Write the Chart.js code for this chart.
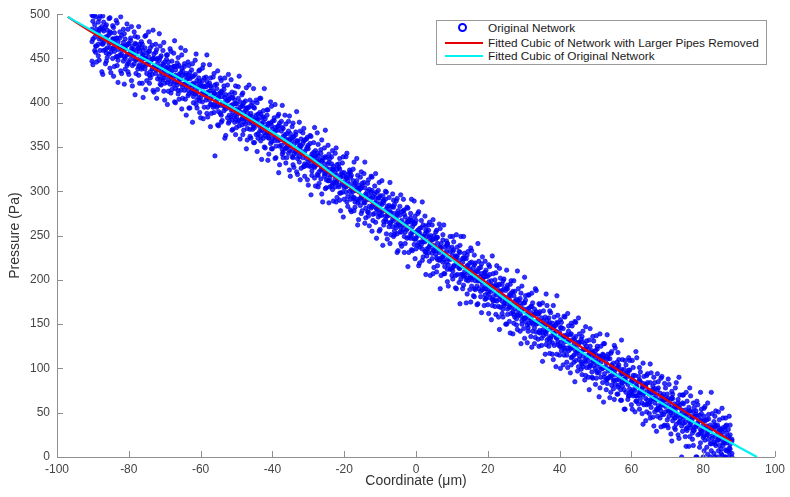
<!DOCTYPE html>
<html><head><meta charset="utf-8">
<script src="https://cdn.jsdelivr.net/npm/chart.js@4.4.1/dist/chart.umd.min.js"></script>
<style>
html,body{margin:0;padding:0;background:#fff;}
#wrap{position:relative;width:790px;height:497px;}
#legend{position:absolute;left:436px;top:20px;width:329px;height:43px;border:1px solid #9a9a9a;background:#fff;font-family:"Liberation Sans",Arial,Helvetica,sans-serif;font-size:11.8px;color:#1a1a1a;}
.row{position:absolute;left:0;height:14px;line-height:14px;width:100%;}
.txt{position:absolute;left:51px;top:0;white-space:nowrap;}
.ln{position:absolute;left:8px;width:38px;height:2px;top:6px;}
.mk{position:absolute;left:21px;top:2px;width:5px;height:5px;border:2px solid;border-radius:50%;}
</style></head>
<body><div id="wrap"><canvas id="c" width="790" height="497"></canvas><div id="legend"></div></div>
<script>
// ---- data ----
const seriesNames = ["Original Network", "Fitted Cubic of Network with Larger Pipes Removed", "Fitted Cubic of Original Network"];
const xTickValues = [-100, -80, -60, -40, -20, 0, 20, 40, 60, 80, 100];
const yTickValues = [0, 50, 100, 150, 200, 250, 300, 350, 400, 450, 500];

// fitted cubic of network with larger pipes removed (red)
const redX = [-97, -90, -80, -70, -60, -50, -40, -30, -20, -10, 0, 10, 20, 30, 40, 50, 60, 70, 80, 88];
const redY = [497, 479, 455, 432, 410, 389, 364, 337, 309, 281, 253, 225, 196, 167, 140, 114, 89, 64, 38, 17];

// fitted cubic of original network (cyan)
const cyanX = [-97, -90, -80, -70, -60, -50, -40, -30, -20, -10, 0, 10, 20, 30, 40, 50, 60, 70, 80, 90, 95];
const cyanY = [497, 481, 459, 437, 415, 392, 367, 340, 310, 282, 253, 223, 193, 163, 135, 108, 82, 57, 33, 11, 0];

// original network scatter: each entry is [coordinate, pressure, pressure, ...]
const cloudColumns = [
[-90,492,472,498,443],[-89.5,474,488,459,499],[-89,483,464,478,446],[-88.5,466,491,479,453],[-88,475,459,484,498],[-87.5,467,486,472,435],[-87,481,468,459,491],[-86.5,460,474,486,444],[-86,475,462,482,451],[-85.5,467,477,455,495],
[-85,479,457,468,434],[-84.5,461,472,450,487],[-84,468,479,458,441],[-83.5,452,464,473,493],[-83,469,460,448,423],[-82.5,454,473,464,480],[-82,476,455,460,433],[-81.5,447,464,468,483],[-81,461,450,472,438],[-80.5,454,465,442,489],
[-80,467,455,446,432],[-79.5,449,470,457,473],[-79,459,442,464,419],[-78.5,453,460,444,480],[-78,466,448,456,433],[-77.5,438,461,449,474],[-77,458,443,466,422],[-76.5,448,462,438,469],[-76,454,443,459,406],[-75.5,438,450,462,475],
[-75,456,433,444,425],[-74.5,444,458,452,480],[-74,447,435,462,428],[-73.5,438,449,432,465],[-73,455,441,450,412],[-72.5,433,457,437,466],[-72,444,427,450,415],[-71.5,439,448,430,478],[-71,453,435,441,420],[-70.5,426,444,432,459],
[-70,446,436,422,403],[-69.5,431,449,439,454],[-69,441,426,446,413],[-68.5,430,435,421,461],[-68,447,425,436,415],[-67.5,420,441,429,456],[-67,431,416,437,400],[-66.5,423,441,420,445],[-66,432,425,442,404],[-65.5,414,434,427,462],
[-65,436,418,431,405],[-64.5,421,441,414,444],[-64,426,418,433,386],[-63.5,414,428,408,446],[-63,434,420,427,394],[-62.5,413,429,417,437],[-62,422,407,430,400],[-61.5,416,432,410,448],[-61,425,412,403,394],[-60.5,406,417,428,436],
[-60,421,406,418,383],[-59.5,411,425,401,439],[-59,428,409,418,395],[-58.5,403,418,410,429],[-58,412,395,420,384],[-57.5,403,413,422,443],[-57,417,398,406,388],[-56.5,395,413,408,429],[-56,410,399,420,340],[-55.5,403,416,395,421],
[-55,410,390,406,374],[-54.5,397,411,388,428],[-54,412,399,407,380],[-53.5,391,415,396,419],[-53,402,393,409,363],[-52.5,383,402,396,420],[-52,404,386,409,379],[-51.5,392,397,384,426],[-51,406,389,398,370],[-50.5,386,403,378,411],
[-50,393,384,399,372],[-49.5,379,405,388,418],[-49,395,389,401,359],[-48.5,382,396,375,409],[-48,400,378,389,369],[-47.5,382,392,376,402],[-47,394,371,389,358],[-46.5,383,395,377,420],[-46,388,379,397,360],[-45.5,370,384,376,400],
[-45,394,372,381,355],[-44.5,377,386,364,403],[-44,381,365,387,360],[-43.5,368,389,373,405],[-43,377,369,383,336],[-42.5,360,378,384,391],[-42,382,371,363,349],[-41.5,366,386,373,392],[-41,377,360,366,342],[-40.5,365,377,354,401],
[-40,379,360,370,348],[-39.5,357,367,380,383],[-39,369,351,362,338],[-38.5,357,373,369,385],[-38,377,358,351,330],[-37.5,359,368,352,379],[-37,362,344,371,338],[-36.5,348,364,355,386],[-36,365,350,357,338],[-35.5,351,368,343,379],
[-35,360,352,365,317],[-34.5,339,357,346,373],[-34,362,342,353,327],[-33.5,348,364,345,367],[-33,355,337,357,319],[-32.5,339,350,333,378],[-32,359,343,351,326],[-31.5,338,354,343,366],[-31,345,331,358,317],[-30.5,330,348,337,359],
[-30,348,333,352,307],[-29.5,335,354,328,363],[-29,342,323,338,318],[-28.5,328,344,333,355],[-28,346,329,340,306],[-27.5,319,334,343,366],[-27,335,322,330,309],[-26.5,324,343,314,347],[-26,338,325,335,288],[-25.5,317,331,320,349],
[-25,326,313,338,304],[-24.5,319,331,312,352],[-24,337,315,325,305],[-23.5,319,331,306,339],[-23,325,309,328,289],[-22.5,305,321,314,343],[-22,325,311,330,293],[-21.5,307,327,305,331],[-21,316,298,319,278],[-20.5,309,321,299,332],
[-20,321,304,311,291],[-19.5,299,316,305,339],[-19,312,294,319,283],[-18.5,300,308,321,324],[-18,318,296,302,277],[-17.5,300,312,292,325],[-17,309,301,288,282],[-16.5,291,312,304,337],[-16,300,289,307,268],[-15.5,284,303,292,316],
[-15,306,293,309,278],[-14.5,289,310,287,320],[-14,297,281,295,270],[-13.5,291,300,277,309],[-13,302,283,295,261],[-12.5,281,292,299,317],[-12,294,274,285,267],[-11.5,275,297,287,306],[-11,287,280,299,247],[-10.5,279,292,271,301],
[-10,295,273,286,257],[-9.5,273,285,278,312],[-9,287,266,290,262],[-8.5,272,291,268,300],[-8,277,272,283,246],[-7.5,260,284,273,293],[-7,282,265,276,251],[-6.5,269,283,260,297],[-6,275,255,285,251],[-5.5,259,270,262,289],
[-5,278,264,275,233],[-4.5,254,273,262,283],[-4,267,254,277,238],[-3.5,257,278,262,291],[-3,271,254,263,241],[-2.5,257,266,247,282],[-2,266,248,268,231],[-1.5,247,270,252,275],[-1,260,254,267,233],[-0.5,246,263,240,289],
[0,267,247,254,235],[0.5,250,256,239,275],[1,258,237,253,219],[1.5,243,259,240,267],[2,249,243,262,226],[2.5,232,252,243,272],[3,254,235,249,227],[3.5,236,256,231,262],[4,244,240,250,205],[4.5,230,245,224,262],
[5,250,233,239,214],[5.5,233,246,229,254],[6,241,223,248,216],[6.5,222,236,231,263],[7,241,225,236,205],[7.5,226,245,220,251],[8,230,215,237,207],[8.5,220,232,239,244],[9,237,224,217,193],[9.5,212,232,223,249],
[10,227,213,237,205],[10.5,216,234,215,243],[11,227,205,222,191],[11.5,216,227,206,237],[12,232,213,222,197],[12.5,206,216,201,249],[13,220,206,224,190],[13.5,209,224,205,230],[14,213,200,224,174],[14.5,199,216,208,232],
[15,219,203,212,189],[15.5,200,220,193,233],[16,208,203,214,182],[16.5,189,209,199,219],[17,210,193,203,172],[17.5,199,213,190,221],[18,204,187,214,181],[18.5,189,201,194,226],[19,208,190,203,171],[19.5,190,204,179,211],
[20,194,186,204,172],[20.5,180,206,189,215],[21,199,187,194,155],[21.5,181,190,176,207],[22,200,177,193,170],[22.5,183,193,176,216],[23,188,170,194,158],[23.5,169,187,181,202],[24,188,176,195,162],[24.5,173,190,171,201],
[25,188,177,180,150],[25.5,167,190,161,194],[26,178,169,183,153],[26.5,169,185,162,199],[27,187,164,173,139],[27.5,158,176,167,187],[28,174,156,178,149],[28.5,166,177,160,190],[29,174,162,179,142],[29.5,154,166,150,193],
[30,174,156,167,145],[30.5,157,177,153,182],[31,162,149,167,129],[31.5,151,168,157,183],[32,170,154,163,136],[32.5,142,160,150,174],[33,161,146,167,128],[33.5,150,164,141,188],[34,161,151,155,133],[34.5,143,164,140,172],
[35,150,134,157,126],[35.5,137,154,144,165],[36,158,141,148,116],[36.5,143,155,132,171],[37,150,134,157,125],[37.5,136,145,134,163],[38,151,129,146,116],[38.5,126,147,138,158],[39,142,135,149,102],[39.5,127,151,130,160],
[40,141,125,136,115],[40.5,130,146,120,152],[41,145,125,135,104],[41.5,130,136,120,158],[42,138,115,136,107],[42.5,120,130,142,148],[43,138,122,124,95],[43.5,113,132,124,148],[44,127,115,134,107],[44.5,117,136,109,152],
[45,129,119,126,97],[45.5,110,129,114,139],[46,133,107,119,99],[46.5,114,121,102,142],[47,122,109,128,87],[47.5,101,125,112,131],[48,115,109,121,90],[48.5,103,125,104,145],[49,120,96,114,90],[49.5,103,116,108,131],
[50,120,100,111,82],[50.5,105,122,95,125],[51,110,95,114,68],[51.5,90,107,99,125],[52,111,100,116,84],[52.5,94,111,90,128],[53,101,87,106,76],[53.5,89,111,97,116],[54,111,91,99,67],[54.5,92,104,81,119],
[55,101,86,106,77],[55.5,82,98,93,123],[56,101,87,107,71],[56.5,88,104,81,110],[57,93,76,97,64],[57.5,80,94,84,110],[58,99,76,88,54],[58.5,85,95,73,104],[59,91,82,94,65],[59.5,72,98,77,109],
[60,86,74,84,59],[60.5,76,92,69,101],[61,92,75,85,51],[61.5,69,80,63,112],[62,85,70,91,60],[62.5,73,85,66,96],[63,79,61,77,49],[63.5,59,80,72,91],[64,82,66,80,41],[64.5,64,84,60,94],
[65,71,60,75,49],[65.5,56,72,65,95],[66,76,66,80,45],[66.5,61,77,51,84],[67,70,54,65,29],[67.5,55,78,58,85],[68,65,56,72,44],[68.5,48,69,59,91],[69,71,48,64,35],[69.5,57,67,51,78],
[70,64,42,71,36],[70.5,46,59,52,82],[71,65,50,56,26],[71.5,47,66,41,71],[72,56,44,60,33],[72.5,37,57,49,84],[73,61,47,65,25],[73.5,44,59,40,70],[74,49,35,53,0],[74.5,38,60,43,70],
[75,53,39,46,23],[75.5,33,49,30,63],[76,56,41,52,12],[76.5,38,52,33,69],[77,45,27,43,20],[77.5,30,46,34,56],[78,48,34,52,0],[78.5,25,39,36,59],[79,41,26,47,11],[79.5,29,49,27,54],
[80,36,22,41,0],[80.5,19,41,30,57],[81,42,25,35,11],[81.5,29,43,20,48],[82,36,15,30,0],[82.5,21,33,24,49],[83,40,17,32,4],[83.5,23,35,13,52],[84,28,19,36,0],[84.5,13,30,22,42],
[85,31,9,25,4],[85.5,16,33,13,44],[86,22,16,31,0],[86.5,7,27,16,36],[87,23,7,31,0],[87.5,14,25,9,36],[88,20,4,18,0]
];

// more points of the same cloud, including the wider fringe
const cloudColumnsFringe = [
[-90.25,483,469,499,447],[-89.25,464,479,497,457],[-88.25,482,472,495,448],[-87.25,466,483,498,432],[-86.25,471,456,488,447],[-85.25,480,462,496,439],[-84.25,462,472,485,430],[-83.25,473,452,490,442],[-82.25,453,463,497,436],[-81.25,463,452,478,421],
[-80.25,444,466,483,435],[-79.25,461,454,486,425],[-78.25,449,467,475,409],[-77.25,462,441,486,431],[-76.25,440,454,466,422],[-75.25,450,442,476,415],[-74.25,431,458,469,422],[-73.25,450,440,482,414],[-72.25,440,449,460,405],[-71.25,451,426,464,421],
[-70.25,428,442,413,468],[-69.25,438,423,398,454],[-68.25,430,440,411,458],[-67.25,441,424,401,470],[-66.25,414,429,410,451],[-65.25,421,439,393,454],[-64.25,431,421,404,459],[-63.25,410,431,394,442],[-62.25,421,411,378,444],[-61.25,410,421,398,455],
[-60.25,424,402,389,437],[-59.25,412,419,382,443],[-58.25,424,406,388,454],[-57.25,398,419,373,428],[-56.25,411,397,389,433],[-55.25,397,405,375,436],[-54.25,413,386,378,425],[-53.25,396,406,360,428],[-52.25,404,395,377,432],[-51.25,381,406,369,412],
[-50.25,399,381,419,364],[-49.25,380,391,430,374],[-48.25,397,383,411,364],[-47.25,381,394,417,348],[-46.25,385,370,403,362],[-45.25,395,373,416,355],[-44.25,376,382,400,345],[-43.25,387,362,405,357],[-42.25,366,372,416,350],[-41.25,376,361,392,335],
[-40.25,356,374,396,348],[-39.25,372,361,398,337],[-38.25,360,374,387,321],[-37.25,372,347,397,342],[-36.25,349,359,376,332],[-35.25,358,346,385,324],[-34.25,338,361,377,330],[-33.25,357,343,390,322],[-32.25,347,352,368,313],[-31.25,357,328,371,328],
[-30.25,329,350,313,361],[-29.25,339,329,296,362],[-28.25,327,338,315,372],[-27.25,340,318,305,353],[-26.25,327,334,297,358],[-25.25,339,321,303,369],[-24.25,312,333,287,342],[-23.25,324,310,302,346],[-22.25,310,318,288,349],[-21.25,325,298,290,337],
[-20.25,307,317,271,339],[-19.25,315,306,288,343],[-18.25,291,316,279,322],[-17.25,293,307,278,333],[-16.25,302,287,262,318],[-15.25,294,304,275,322],[-14.25,304,287,264,333],[-13.25,276,291,272,313],[-12.25,283,301,255,316],[-11.25,292,282,265,320],
[-10.25,275,293,255,310],[-9.25,289,278,239,295],[-8.25,266,280,252,299],[-7.25,277,264,241,310],[-6.25,267,282,249,290],[-5.25,252,274,231,292],[-4.25,265,259,241,296],[-3.25,249,274,231,279],[-2.25,265,259,215,281],[-1.25,250,265,234,291],
[-0.25,264,246,224,272],[0.75,242,253,216,277],[1.75,249,235,222,288],[2.75,231,256,206,261],[3.75,248,238,221,265],[4.75,234,246,207,268],[5.75,248,225,209,256],[6.75,223,237,190,258],[7.75,228,223,207,262],[8.75,212,241,198,241],
[10.25,210,232,249,201],[11.25,226,219,251,190],[12.25,213,231,239,173],[13.25,225,204,249,194],[14.25,202,216,228,184],[15.25,210,202,236,175],[16.25,190,217,228,181],[17.25,209,199,241,173],[18.25,198,207,218,163],[19.25,208,183,221,178],
[20.25,198,184,217,162],[21.25,178,193,227,171],[22.25,195,185,208,161],[23.25,178,195,213,144],[24.25,182,167,199,158],[25.25,191,173,211,150],[26.25,172,182,195,140],[27.25,182,161,199,151],[28.25,161,171,210,144],[29.25,170,159,185,128],
[30.25,174,157,134,203],[31.25,146,161,142,183],[32.25,152,170,124,185],[33.25,162,152,135,190],[34.25,141,162,125,173],[35.25,151,141,108,174],[36.25,139,150,127,184],[37.25,152,130,117,165],[38.25,140,147,110,171],[39.25,152,134,116,182],
[40.25,125,146,100,155],[41.25,137,123,115,159],[42.25,123,131,101,162],[43.25,139,112,104,151],[44.25,121,131,85,153],[45.25,129,120,102,157],[46.25,105,130,93,136],[47.25,107,121,92,147],[48.25,116,101,76,132],[49.25,108,118,89,136],
[50.25,97,115,137,89],[51.25,113,102,139,78],[52.25,101,115,128,62],[53.25,113,88,138,83],[54.25,90,100,117,73],[55.25,99,87,126,65],[56.25,79,102,118,71],[57.25,99,85,132,64],[58.25,88,93,109,54],[59.25,98,69,112,69],
[60.25,89,71,109,54],[61.25,69,80,119,63],[62.25,87,73,101,54],[63.25,70,83,106,37],[64.25,74,59,92,51],[65.25,84,62,105,44],[66.25,66,72,90,35],[67.25,76,53,94,46],[68.25,52,63,89,34],[69.25,59,65,83,36],
[70.25,52,66,33,88],[71.25,67,52,18,74],[72.25,44,54,31,78],[73.25,56,39,21,90],[74.25,46,61,29,70],[75.25,32,50,12,73],[76.25,46,36,23,78],[77.25,30,51,13,61],[78.25,46,36,0,63],[79.25,31,42,16,73],
[80.25,46,24,7,55],[81.25,25,32,3,61],[82.25,33,15,7,73],[83.25,15,36,0,46],[84.25,33,19,7,51],[85.25,20,28,2,55],[86.25,35,8,0,44],[87.25,10,20,5,46]
];

// ---- build chart ----
const FONT = '"Liberation Sans", Arial, Helvetica, sans-serif';
const cloudPoints = [];
[cloudColumns, cloudColumnsFringe].forEach(list => list.forEach(col => {
  for (let i = 1; i < col.length; i++) cloudPoints.push({x: col[0], y: col[i]});
}));
const redPoints = redX.map((x, i) => ({x, y: redY[i]}));
const cyanPoints = cyanX.map((x, i) => ({x, y: cyanY[i]}));

const colors = {cloud: '#0000ff', red: '#e80000', cyan: '#00f2f2'};

const inwardTicks = {
  id: 'inwardTicks',
  afterDraw(chart) {
    const {ctx, chartArea, scales} = chart;
    ctx.save();
    ctx.strokeStyle = '#8f8f8f';
    ctx.lineWidth = 1;
    ctx.beginPath();
    xTickValues.forEach(v => {
      const px = Math.round(scales.x.getPixelForValue(v)) + 0.5;
      ctx.moveTo(px, chartArea.bottom); ctx.lineTo(px, chartArea.bottom - 6);
    });
    yTickValues.forEach(v => {
      const py = Math.round(scales.y.getPixelForValue(v)) + 0.5;
      ctx.moveTo(chartArea.left, py); ctx.lineTo(chartArea.left + 6, py);
    });
    ctx.stroke();
    ctx.restore();
  }
};

new Chart(document.getElementById('c'), {
  type: 'scatter',
  data: {
    datasets: [
      {label: seriesNames[0], data: cloudPoints, showLine: false, pointRadius: 2.2, pointBorderWidth: 0.7,
       borderColor: 'rgba(0,0,235,0.9)', backgroundColor: 'rgba(0,0,255,0.8)', order: 3},
      {label: seriesNames[1], data: redPoints, showLine: true, borderColor: colors.red, borderWidth: 2.2,
       pointRadius: 0, cubicInterpolationMode: 'monotone', fill: false, order: 2},
      {label: seriesNames[2], data: cyanPoints, showLine: true, borderColor: colors.cyan, borderWidth: 2.2,
       pointRadius: 0, cubicInterpolationMode: 'monotone', fill: false, order: 1}
    ]
  },
  options: {
    responsive: false, animation: false, devicePixelRatio: 1,
    layout: {padding: {left: 0, right: 13, top: 7, bottom: 0}},
    plugins: {legend: {display: false}, tooltip: {enabled: false}},
    scales: {
      x: {
        type: 'linear', min: -100, max: 100,
        afterBuildTicks: s => { s.ticks = xTickValues.map(v => ({value: v})); },
        afterFit: s => { s.height = 40; },
        ticks: {color: '#444', font: {family: FONT, size: 12}, padding: 5, maxRotation: 0, autoSkip: false},
        grid: {display: false, drawTicks: false},
        border: {display: true, color: '#8f8f8f', width: 1},
        title: {display: true, text: 'Coordinate (μm)', color: '#333', font: {family: FONT, size: 14}, padding: {top: 0, bottom: 7}}
      },
      y: {
        type: 'linear', min: 0, max: 500,
        afterBuildTicks: s => { s.ticks = yTickValues.map(v => ({value: v})); },
        afterFit: s => { s.width = 57; },
        ticks: {color: '#444', font: {family: FONT, size: 12}, padding: 7, autoSkip: false},
        grid: {display: false, drawTicks: false},
        border: {display: true, color: '#8f8f8f', width: 1},
        title: {display: true, text: 'Pressure (Pa)', color: '#333', font: {family: FONT, size: 14}, padding: {top: 7, bottom: 0}}
      }
    }
  },
  plugins: [inwardTicks]
});

// ---- legend box built from the series names and colours ----
const legend = document.getElementById('legend');
const rowTops = [0, 14.5, 28];
const legendKinds = [['mk', colors.cloud], ['ln', colors.red], ['ln', colors.cyan]];
seriesNames.forEach((name, i) => {
  const row = document.createElement('div');
  row.className = 'row';
  row.style.top = rowTops[i] + 'px';
  const glyph = document.createElement('div');
  glyph.className = legendKinds[i][0];
  if (legendKinds[i][0] === 'mk') glyph.style.borderColor = legendKinds[i][1];
  else glyph.style.background = legendKinds[i][1];
  const txt = document.createElement('div');
  txt.className = 'txt';
  txt.textContent = name;
  row.appendChild(glyph); row.appendChild(txt);
  legend.appendChild(row);
});
</script>
</body></html>
